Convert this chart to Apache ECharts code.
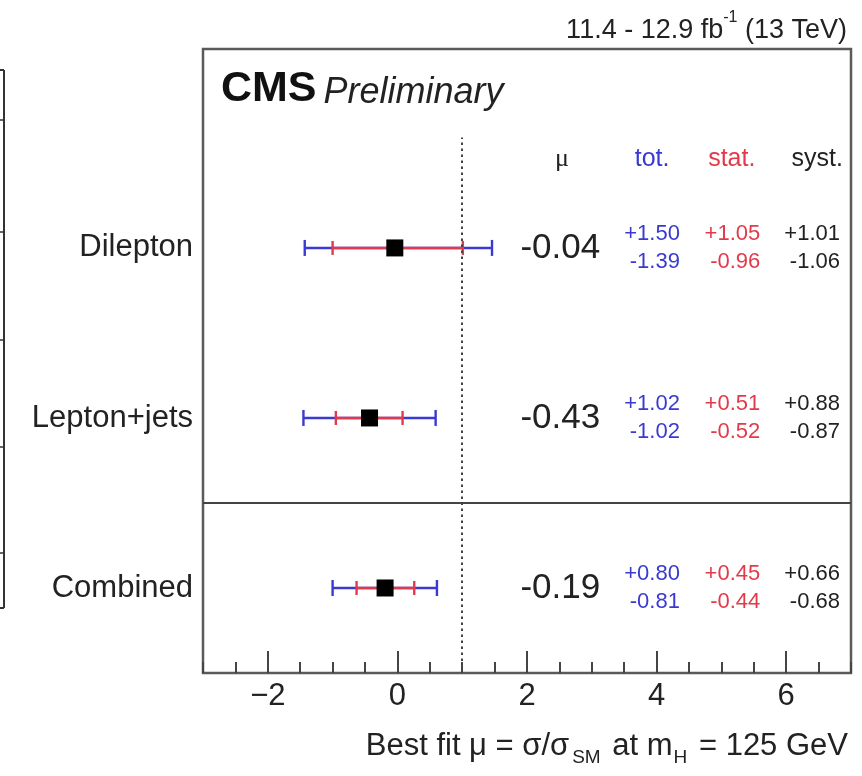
<!DOCTYPE html>
<html>
<head>
<meta charset="utf-8">
<title>Best fit signal strength</title>
<script src="https://cdn.jsdelivr.net/npm/echarts@6/dist/echarts.min.js"></script>
<style>
  html, body { margin: 0; padding: 0; background: #ffffff; }
  #chart { width: 862px; height: 776px; }
</style>
</head>
<body>
<div id="chart"></div>
<script>
// Fit categories, drawn from top to bottom
const rowNames = ['Dilepton', 'Lepton+jets', 'Combined'];
const rowPos   = [2.5, 1.5, 0.5];

// Best-fit signal strength and its uncertainties
const muVals  = [-0.04, -0.43, -0.19];
const totUp   = [1.50, 1.02, 0.80];
const totDn   = [1.39, 1.02, 0.81];
const statUp  = [1.05, 0.51, 0.45];
const statDn  = [0.96, 0.52, 0.44];
const systUp  = [1.01, 0.88, 0.66];
const systDn  = [1.06, 0.87, 0.68];

// Column headings of the table of numbers
const columnHeads = ['μ', 'tot.', 'stat.', 'syst.'];

// Axis ticks
const xMajorTicks = [-2, 0, 2, 4, 6];
const smExpectation = 1;
const groupSeparator = 1;

const FONT = '"Liberation Sans", Arial, Helvetica, sans-serif';
const BLUE = '#3a3ad2';
const RED = '#e23a4a';
const INK = '#222222';

const X_MIN = -3, X_MAX = 7;
const Y_MIN = 0, Y_MAX = 3.67;

// Table columns (in x data units)
const COL_MU_RIGHT = 3.13;
const COL_TOT_RIGHT = 4.36;
const COL_STAT_RIGHT = 5.60;
const COL_SYST_RIGHT = 6.83;
const HEAD_X = [2.54, 3.93, 5.16, 6.48];
const HEAD_Y = 3.02;
const DOTTED_TOP = 3.15;

const rows = rowNames.map((name, i) => [muVals[i], rowPos[i], totDn[i], totUp[i], statDn[i], statUp[i], i]);

function fmtSigned(v, sign) { return sign + v.toFixed(2); }

function renderRow(params, api) {
  const mu = api.value(0);
  const y = api.value(1);
  const tDn = api.value(2), tUp = api.value(3);
  const sDn = api.value(4), sUp = api.value(5);
  const i = api.value(6);
  const at = x => api.coord([x, y]);

  const tL = at(mu - tDn), tR = at(mu + tUp);
  const sL = at(mu - sDn), sR = at(mu + sUp);
  const capT = 8, capS = 7;
  const yPix = tL[1];
  const line = (x1, y1, x2, y2, color) => ({
    type: 'line',
    shape: { x1, y1, x2, y2 },
    style: { stroke: color, lineWidth: 2.4 }
  });
  const text = (str, x, yy, opts) => ({
    type: 'text',
    style: Object.assign({
      text: str, x, y: yy, fill: INK, fontFamily: FONT,
      align: 'right', verticalAlign: 'middle'
    }, opts)
  });

  const left = at(X_MIN);
  const off = 14;
  const children = [
    // total uncertainty
    line(tL[0], yPix, tR[0], yPix, BLUE),
    line(tL[0], yPix - capT, tL[0], yPix + capT, BLUE),
    line(tR[0], yPix - capT, tR[0], yPix + capT, BLUE),
    // statistical uncertainty
    line(sL[0], yPix, sR[0], yPix, RED),
    line(sL[0], yPix - capS, sL[0], yPix + capS, RED),
    line(sR[0], yPix - capS, sR[0], yPix + capS, RED),
    // row name
    text(rowNames[i], left[0] - 10, yPix, { fontSize: 31 }),
    // central value
    text(mu.toFixed(2), at(COL_MU_RIGHT)[0], yPix, { fontSize: 35 }),
    // uncertainties
    text(fmtSigned(tUp, '+'), at(COL_TOT_RIGHT)[0], yPix - off, { fontSize: 22, fill: BLUE }),
    text(fmtSigned(tDn, '-'), at(COL_TOT_RIGHT)[0], yPix + off, { fontSize: 22, fill: BLUE }),
    text(fmtSigned(sUp, '+'), at(COL_STAT_RIGHT)[0], yPix - off, { fontSize: 22, fill: RED }),
    text(fmtSigned(sDn, '-'), at(COL_STAT_RIGHT)[0], yPix + off, { fontSize: 22, fill: RED }),
    text(fmtSigned(systUp[i], '+'), at(COL_SYST_RIGHT)[0], yPix - off, { fontSize: 22 }),
    text(fmtSigned(systDn[i], '-'), at(COL_SYST_RIGHT)[0], yPix + off, { fontSize: 22 })
  ];
  return { type: 'group', children };
}

function renderHeads(params, api) {
  const colors = [INK, BLUE, RED, INK];
  return {
    type: 'group',
    children: columnHeads.map((h, k) => {
      const p = api.coord([HEAD_X[k], HEAD_Y]);
      return {
        type: 'text',
        style: {
          text: h, x: p[0], y: p[1], fill: colors[k],
          fontFamily: k === 0 ? '"Liberation Serif", "DejaVu Serif", serif' : FONT,
          fontSize: k === 0 ? 26 : 25,
          align: 'center', verticalAlign: 'middle'
        }
      };
    })
  };
}

const chart = echarts.init(document.getElementById('chart'), null, { renderer: 'canvas' });

chart.setOption({
  animation: false,
  backgroundColor: '#ffffff',
  grid: {
    left: 203, top: 49, width: 648, height: 624,
    show: true, borderColor: '#5a5a5a', borderWidth: 2.5, backgroundColor: 'transparent'
  },
  title: [
    {
      text: '{a|11.4 - 12.9 fb}{sup|-1}{a| (13 TeV)}',
      right: 10, top: 5,
      textStyle: {
        fontWeight: 'normal',
        rich: {
          a: { fontFamily: FONT, fontSize: 27, fontWeight: 'normal', color: INK, lineHeight: 34, verticalAlign: 'bottom' },
          sup: { fontFamily: FONT, fontSize: 16, fontWeight: 'normal', color: INK, lineHeight: 17, verticalAlign: 'top' }
        }
      }
    },
    {
      text: '{b|CMS} {i|Preliminary}',
      left: 216, top: 60,
      textStyle: {
        fontWeight: 'normal',
        rich: {
          b: { fontFamily: FONT, fontSize: 43, fontWeight: 'bold', color: '#111', verticalAlign: 'bottom', lineHeight: 46 },
          i: { fontFamily: FONT, fontSize: 36, fontWeight: 'normal', fontStyle: 'italic', color: '#222', verticalAlign: 'bottom', lineHeight: 44, padding: [0, 0, 0, 2] }
        }
      }
    },
    {
      text: '{a|Best fit μ = σ/σ}{s|SM}{a| at m}{h|H}{a| = 125 GeV}',
      right: 9, top: 726,
      textStyle: {
        fontWeight: 'normal',
        rich: {
          a: { fontFamily: FONT, fontSize: 31, fontWeight: 'normal', color: INK, lineHeight: 36, verticalAlign: 'top' },
          s: { fontFamily: FONT, fontSize: 19, fontWeight: 'normal', color: INK, lineHeight: 20, verticalAlign: 'bottom', padding: [40, 3, 0, 3] },
          h: { fontFamily: FONT, fontSize: 19, fontWeight: 'normal', color: INK, lineHeight: 20, verticalAlign: 'bottom', padding: [18, 3, 0, 1] }
        }
      }
    }
  ],
  xAxis: [
    {
      type: 'value', min: X_MIN, max: X_MAX, position: 'bottom',
      axisLine: { show: false },
      splitLine: { show: false },
      axisTick: {
        show: true, inside: true, length: 22, customValues: xMajorTicks,
        lineStyle: { color: '#444', width: 2 }
      },
      axisLabel: {
        customValues: xMajorTicks,
        formatter: v => String(v).replace('-', '\u2212'),
        fontFamily: FONT, fontSize: 31, color: INK, margin: 8
      }
    },
    {
      type: 'value', min: X_MIN, max: X_MAX, interval: 0.5, position: 'bottom',
      axisLine: { show: false },
      splitLine: { show: false },
      axisTick: { show: true, inside: true, length: 11, lineStyle: { color: '#444', width: 2 } },
      axisLabel: { show: false }
    }
  ],
  yAxis: {
    type: 'value', min: Y_MIN, max: Y_MAX, show: false
  },
  series: [
    {
      type: 'custom',
      renderItem: renderRow,
      data: rows,
      z: 3
    },
    {
      type: 'scatter',
      symbol: 'rect',
      symbolSize: 17,
      itemStyle: { color: '#000', opacity: 1 },
      data: rowPos.map((y, i) => [muVals[i], y]),
      z: 5,
      markLine: {
        silent: true,
        symbol: 'none',
        label: { show: false },
        data: [
          [
            { coord: [smExpectation, Y_MIN], lineStyle: { type: [2.5, 3.5], color: '#444', width: 2 } },
            { coord: [smExpectation, DOTTED_TOP] }
          ],
          { yAxis: groupSeparator, lineStyle: { type: 'solid', color: '#444', width: 2 } }
        ]
      }
    },
    {
      type: 'custom',
      renderItem: renderHeads,
      data: [[0, 0]],
      z: 3
    }
  ],
  graphic: [
    // edge of the adjacent panel
    {
      type: 'group',
      children: [
        { type: 'line', shape: { x1: 4, y1: 70, x2: 4, y2: 608 }, style: { stroke: '#333', lineWidth: 2 } },
        { type: 'line', shape: { x1: 0, y1: 70, x2: 4, y2: 70 }, style: { stroke: '#333', lineWidth: 2 } },
        { type: 'line', shape: { x1: 0, y1: 120, x2: 4, y2: 120 }, style: { stroke: '#333', lineWidth: 1.5 } },
        { type: 'line', shape: { x1: 0, y1: 232, x2: 4, y2: 232 }, style: { stroke: '#333', lineWidth: 1.5 } },
        { type: 'line', shape: { x1: 0, y1: 340, x2: 4, y2: 340 }, style: { stroke: '#333', lineWidth: 1.5 } },
        { type: 'line', shape: { x1: 0, y1: 447, x2: 4, y2: 447 }, style: { stroke: '#333', lineWidth: 1.5 } },
        { type: 'line', shape: { x1: 0, y1: 553, x2: 4, y2: 553 }, style: { stroke: '#333', lineWidth: 1.5 } },
        { type: 'line', shape: { x1: 0, y1: 608, x2: 4, y2: 608 }, style: { stroke: '#333', lineWidth: 2 } }
      ]
    }
  ]
});
</script>
</body>
</html>
